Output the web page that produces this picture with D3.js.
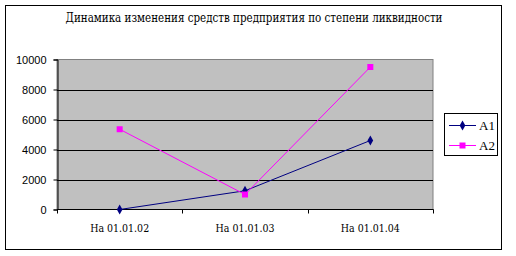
<!DOCTYPE html>
<html>
<head>
<meta charset="UTF-8"/>
<script src="https://cdn.jsdelivr.net/npm/d3@7"></script>
<style>
  body { margin: 0; background: #fff; }
  svg { display: block; }
</style>
</head>
<body>
<svg width="516" height="256"></svg>
<script>
// data
const categories = ['На 01.01.02', 'На 01.01.03', 'На 01.01.04'];
const a1 = [0, 1250, 4600];
const a2 = [5350, 1000, 9500];
const yTicks = [0, 2000, 4000, 6000, 8000, 10000];
const seriesNames = ['A1', 'A2'];
const colors = ['#000080', '#ff00ff'];

const serif = "'DejaVu Serif', 'Liberation Serif', serif";
const sans = "'Liberation Sans', Arial, sans-serif";

const svg = d3.select('svg');

// outer frame
svg.append('rect')
  .attr('x', 5.5).attr('y', 5.5)
  .attr('width', 496).attr('height', 244)
  .attr('fill', '#fff').attr('stroke', '#000');

svg.append('text')
  .attr('x', 254).attr('y', 22)
  .attr('text-anchor', 'middle')
  .attr('textLength', 377)
  .attr('lengthAdjust', 'spacingAndGlyphs')
  .style('font-family', serif)
  .style('font-size', '12px')
  .text('Динамика изменения средств предприятия по степени ликвидности');

const pLeft = 57, pRight = 433, pTop = 59.5, pBottom = 209.5;

const x = d3.scaleBand().domain(categories).range([pLeft, pRight]);
const y = d3.scaleLinear().domain([0, 10000]).range([pBottom, pTop]);

// plot area
svg.append('rect')
  .attr('x', pLeft).attr('y', pTop)
  .attr('width', pRight - pLeft).attr('height', pBottom - pTop)
  .attr('fill', '#c0c0c0').attr('stroke', '#808080');

// gridlines
svg.append('g')
  .selectAll('line')
  .data(yTicks.filter(d => d > 0 && d < 10000))
  .join('line')
  .attr('x1', pLeft).attr('x2', pRight)
  .attr('y1', d => Math.round(y(d)) + 0.5).attr('y2', d => Math.round(y(d)) + 0.5)
  .attr('stroke', '#000');

// y axis
const yAxis = svg.append('g')
  .attr('transform', `translate(${pLeft + 0.5}, 0)`)
  .call(d3.axisLeft(y).tickValues(yTicks).tickSize(4).tickPadding(7).tickFormat(d3.format('d')));
yAxis.attr('font-family', sans).attr('font-size', 11);
yAxis.selectAll('path, line').attr('stroke', '#000');
yAxis.selectAll('text').attr('fill', '#000');

// x axis
const xTickPos = [pLeft, ...categories.map(c => x(c) + x.bandwidth())];
const xAxis = svg.append('g');
xAxis.append('line')
  .attr('x1', pLeft).attr('x2', pRight + 0.5)
  .attr('y1', pBottom).attr('y2', pBottom)
  .attr('stroke', '#000');
xAxis.selectAll('line.tk')
  .data(xTickPos)
  .join('line')
  .attr('class', 'tk')
  .attr('x1', d => Math.round(d) + 0.5).attr('x2', d => Math.round(d) + 0.5)
  .attr('y1', pBottom).attr('y2', pBottom + 4)
  .attr('stroke', '#000');
xAxis.selectAll('text')
  .data(categories)
  .join('text')
  .attr('x', d => x(d) + x.bandwidth() / 2)
  .attr('y', 232)
  .attr('text-anchor', 'middle')
  .attr('textLength', 59)
  .attr('lengthAdjust', 'spacingAndGlyphs')
  .style('font-family', serif)
  .style('font-size', '11px')
  .text(d => d);

const cx = c => x(c) + x.bandwidth() / 2;
const line = d3.line().x((d, i) => cx(categories[i])).y(d => y(d));

const diamond = d3.symbol().type(d3.symbolDiamond).size(28);

// A1
svg.append('path').datum(a1)
  .attr('d', line).attr('fill', 'none').attr('stroke', colors[0]).attr('stroke-width', 1);
svg.append('g').selectAll('path')
  .data(a1).join('path')
  .attr('transform', (d, i) => `translate(${cx(categories[i])},${y(d)})`)
  .attr('d', diamond).attr('fill', colors[0]);

// A2
svg.append('path').datum(a2)
  .attr('d', line).attr('fill', 'none').attr('stroke', colors[1]).attr('stroke-width', 1);
svg.append('g').selectAll('rect')
  .data(a2).join('rect')
  .attr('x', (d, i) => cx(categories[i]) - 3)
  .attr('y', d => y(d) - 3)
  .attr('width', 6).attr('height', 6)
  .attr('fill', colors[1]);

// legend
const lg = svg.append('g');
lg.append('rect')
  .attr('x', 444.5).attr('y', 113.5)
  .attr('width', 53).attr('height', 42)
  .attr('fill', '#fff').attr('stroke', '#000');
seriesNames.forEach((name, i) => {
  const ly = 125 + i * 20;
  lg.append('line')
    .attr('x1', 449).attr('x2', 476)
    .attr('y1', ly + 0.5).attr('y2', ly + 0.5)
    .attr('stroke', colors[i]);
  if (i === 0) {
    lg.append('path')
      .attr('transform', `translate(462.5,${ly + 0.5})`)
      .attr('d', diamond).attr('fill', colors[i]);
  } else {
    lg.append('rect')
      .attr('x', 459.5).attr('y', ly - 2.5)
      .attr('width', 6).attr('height', 6)
      .attr('fill', colors[i]);
  }
  lg.append('text')
    .attr('x', 479).attr('y', ly + 5)
    .style('font-family', "'Liberation Serif', serif")
    .style('font-size', '13px')
    .text(name);
});
</script>
</body>
</html>
